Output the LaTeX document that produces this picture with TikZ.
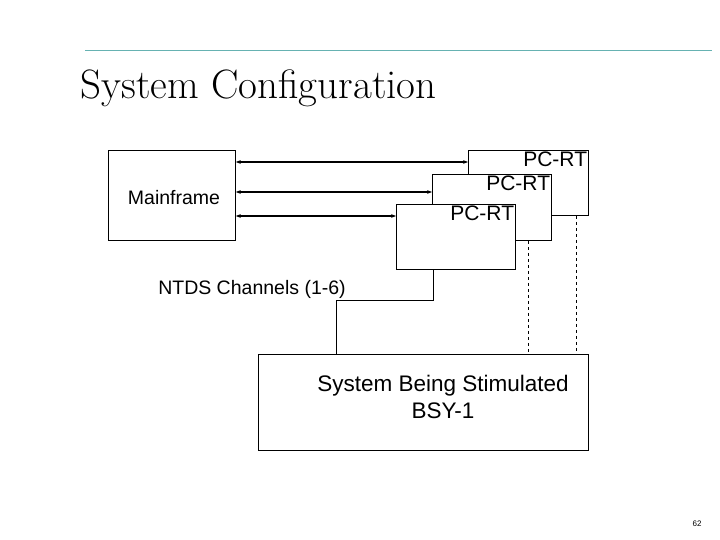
\documentclass[tikz,border=0pt]{standalone}
\usepackage{fontspec}
\setmainfont{Liberation Sans}
\newfontfamily\titlefont{Latin Modern Roman}
\usetikzlibrary{positioning,calc,arrows.meta}
\tikzset{
  box/.style = {draw, thick, minimum width = #1, anchor = north west, inner sep = 0pt},
  lbl/.style = {font = \fontsize{19.5}{23}\selectfont},
  pclbl/.style = {font = \fontsize{21}{24}\selectfont, anchor = north east, inner sep = 1.5pt},
  link/.style = {{Stealth[length=5pt]}-{Stealth[length=5pt]}, line width = 1.2pt}
}
\begin{document}
\begin{tikzpicture}[x = 1pt, y = -1pt]
    \useasboundingbox (0,0) rectangle (720,540);
    \draw [teal!60, thin] (85,50) -- (712,50);
    \node [anchor = west, font = \titlefont\fontsize{41}{46}\selectfont] (title) at (77,88) {System Configuration};
    % boxes
    \node [box = 127pt, minimum height = 90pt] (mf) at (108,150) {};
    \node [lbl] (mflbl) at (174,198) {Mainframe};
    \node [box = 120pt, minimum height = 65pt, fill = white] (pc1) at (468,150) {};
    \node [box = 119pt, minimum height = 66pt, fill = white] (pc2) at (432,174) {};
    \node [box = 119pt, minimum height = 65pt, fill = white] (pc3) at (396,204) {};
    \node [pclbl] (pc1lbl) at (pc1.north east) {PC-RT};
    \node [pclbl] (pc2lbl) at (pc2.north east) {PC-RT};
    \node [pclbl] (pc3lbl) at (pc3.north east) {PC-RT};
    \node [box = 330pt, minimum height = 96pt] (sys) at (258,354) {};
    \node [font = \fontsize{22.5}{27}\selectfont, align = center] (syslbl) at (443,397) {System Being Stimulated\\BSY-1};
    \node [lbl] (ntds) at (252,289) {NTDS Channels (1-6)};
    % channels
    \foreach \i/\y in {1/162, 2/192, 3/216} {
      \draw [link] (mf.east |- 0,\y) -- (pc\i.west |- 0,\y);
    }
    \coordinate (bend) at (433,300);
    \draw [thick] (pc3.south -| bend) -- (bend) -- (336,300) -- (sys.north -| 336,0);
    \draw [thick, dashed] (pc2.south -| 528,0) -- (sys.north -| 528,0);
    \draw [thick, dashed] (pc1.south -| 576,0) -- (sys.north -| 576,0);
    \node [font = \fontsize{8}{9}\selectfont] (page) at (697,524) {62};
\end{tikzpicture}
\end{document}
